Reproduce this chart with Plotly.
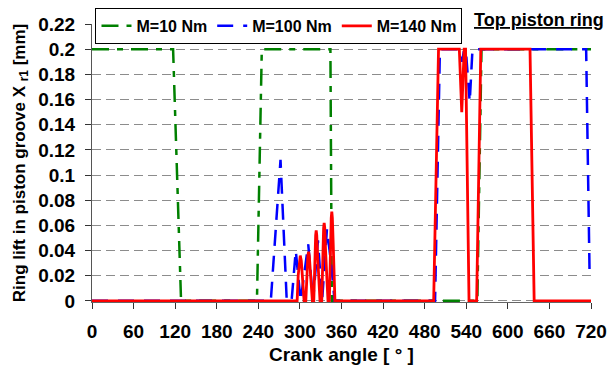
import plotly.graph_objects as go

# Crank angle [deg] / ring lift [mm] for each load case
angle_m10 = [0, 117, 128.5, 238, 245, 344, 346, 556, 562, 720]
lift_m10 = [0.2, 0.2, 0.0, 0.0, 0.2, 0.2, 0.0, 0.0, 0.2, 0.2]

angle_m100 = [0, 258, 272, 281, 288, 294, 301, 306, 312, 319, 326, 332, 339, 345, 350,
              495, 502, 531, 534, 537, 540, 545, 549, 713, 718, 720]
lift_m100 = [0.0, 0.0, 0.112, 0.0, 0.0, 0.04, 0.0, 0.02, 0.045, 0.0, 0.048, 0.0, 0.057, 0.03, 0.0,
             0.0, 0.2, 0.2, 0.19, 0.2, 0.195, 0.158, 0.2, 0.2, 0.02, 0.02]

angle_m140 = [0, 296, 297.5, 299, 300.5, 302, 303.5, 306,
              308.5, 310, 311.5, 312.5, 313.5, 315, 318,
              320, 321.5, 322.7, 323.5, 324.3, 325.5, 329,
              331.5, 333, 334.2, 335, 335.8, 337, 340.5,
              342.5, 344, 345.2, 346, 346.8, 348, 350.5,
              493, 500, 530, 533.5, 537, 539, 544, 555, 561, 632, 638, 720]
lift_m140 = [0.0, 0.0, 0.02, 0.032, 0.036, 0.032, 0.02, 0.0,
             0.0, 0.024, 0.036, 0.039, 0.036, 0.024, 0.0,
             0.0, 0.036, 0.052, 0.056, 0.052, 0.036, 0.0,
             0.0, 0.04, 0.058, 0.062, 0.058, 0.04, 0.0,
             0.0, 0.046, 0.066, 0.071, 0.066, 0.046, 0.0,
             0.0, 0.2, 0.2, 0.15, 0.2, 0.2, 0.0, 0.0, 0.2, 0.2, 0.0, 0.0]

x_ticks = list(range(0, 721, 60))
y_ticks = [round(0.02 * i, 2) for i in range(12)]
y_tick_text = ["0", "0.02", "0.04", "0.06", "0.08", "0.1", "0.12", "0.14", "0.16", "0.18", "0.2", "0.22"]

FONT = "Liberation Sans, Arial, sans-serif"

fig = go.Figure()
fig.add_trace(go.Scatter(x=angle_m10, y=lift_m10, mode="lines", name="M=10 Nm",
                         line=dict(color="#008000", width=2.5, dash="17px,8px,6px,8px")))
fig.add_trace(go.Scatter(x=angle_m100, y=lift_m100, mode="lines", name="M=100 Nm",
                         line=dict(color="#0000FF", width=2.5, dash="16px,10px")))
fig.add_trace(go.Scatter(x=angle_m140, y=lift_m140, mode="lines", name="M=140 Nm",
                         line=dict(color="#FF0000", width=2.8)))

fig.update_layout(
    width=608, height=374,
    margin=dict(l=92, r=17, t=24, b=72, autoexpand=False),
    paper_bgcolor="white", plot_bgcolor="white",
    font=dict(family=FONT, color="black", weight="bold"),
    showlegend=True,
    legend=dict(orientation="h", x=0.007, xanchor="left", y=1.058, yanchor="top",
                bordercolor="black", borderwidth=1, bgcolor="white",
                font=dict(size=16, family=FONT, weight="bold"),
                itemwidth=30, tracegroupgap=0),
    annotations=[dict(text="<u>Top piston ring</u>", xref="paper", yref="paper",
                      x=0.896, y=1.016, xanchor="center", yanchor="middle", showarrow=False,
                      font=dict(size=18, family=FONT, weight="bold"))],
)

fig.update_xaxes(
    range=[0, 720], tickvals=x_ticks, showgrid=False, zeroline=False,
    showline=True, linecolor="#666666", linewidth=1,
    ticks="outside", ticklen=6, tickcolor="#333333", ticklabelstandoff=6,
    tickfont=dict(size=19, family=FONT, weight="bold"),
    title=dict(text="Crank angle [ ° ]", font=dict(size=19, family=FONT, weight="bold"), standoff=6),
)
fig.update_yaxes(
    range=[-0.0009, 0.22], tickvals=y_ticks, ticktext=y_tick_text,
    showgrid=True, gridcolor="#8c8c8c", griddash="9px,5px", gridwidth=1, zeroline=False,
    showline=True, linecolor="#555555", linewidth=1,
    ticks="outside", ticklen=6, tickcolor="#333333", ticklabelstandoff=6,
    tickfont=dict(size=19, family=FONT, weight="bold"),
    title=dict(text="Ring lift in piston groove X <sub>r1</sub> [mm]",
               font=dict(size=17, family=FONT, weight="bold"), standoff=8),
)

fig.write_html("out.html")
